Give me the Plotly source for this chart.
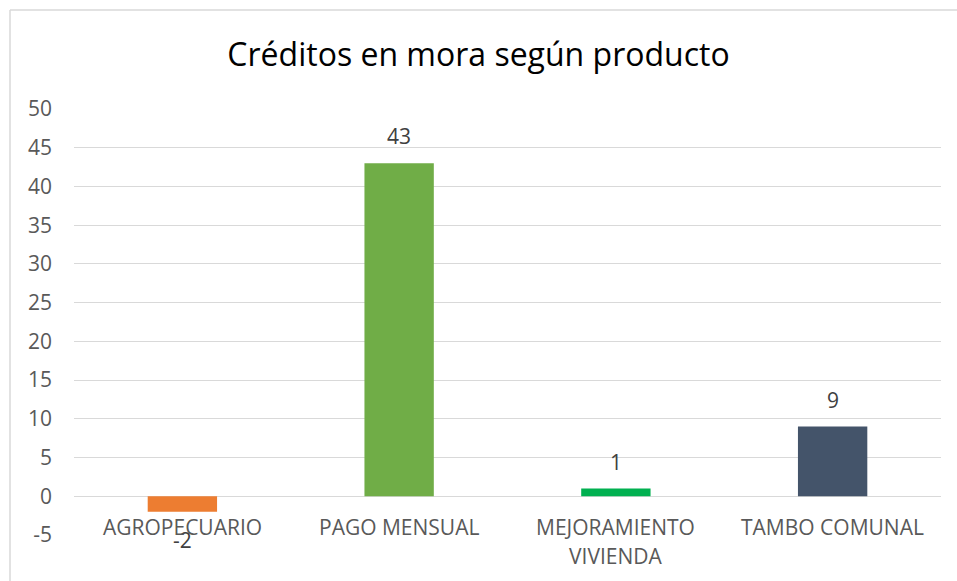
import plotly.graph_objects as go

categories = ["AGROPECUARIO", "PAGO MENSUAL", "MEJORAMIENTO VIVIENDA", "TAMBO COMUNAL"]
label_lines = [["AGROPECUARIO"], ["PAGO MENSUAL"], ["MEJORAMIENTO", "VIVIENDA"], ["TAMBO COMUNAL"]]
values = [-2, 43, 1, 9]
colors = ["#ED7D31", "#70AD47", "#00B050", "#44546A"]
y_ticks = [-5, 0, 5, 10, 15, 20, 25, 30, 35, 40, 45, 50]

FONT = "Open Sans"
GRID = "#D9D9D9"

fig = go.Figure()
fig.add_trace(go.Bar(
    x=categories, y=values, marker=dict(color=colors, line=dict(width=0)),
    hoverinfo="x+y",
))

annotations = []
for cat, v in zip(categories, values):
    if v >= 0:
        annotations.append(dict(x=cat, y=v, xref="x", yref="y", text=str(v), showarrow=False,
                                yanchor="bottom", yshift=11,
                                font=dict(family=FONT, size=21, color="#404040")))
    else:
        annotations.append(dict(x=cat, y=v, xref="x", yref="y", text=str(v), showarrow=False,
                                yanchor="top", yshift=-12,
                                font=dict(family=FONT, size=21, color="#404040")))

for cat, lines in zip(categories, label_lines):
    for i, line in enumerate(lines):
        annotations.append(dict(x=cat, y=0, xref="x", yref="y", text=line, showarrow=False,
                                yanchor="middle", yshift=-31 - 29 * i,
                                font=dict(family=FONT, size=21, color="#595959")))

fig.update_layout(
    width=957, height=581,
    margin=dict(l=74, r=16, t=109, b=46),
    paper_bgcolor="white", plot_bgcolor="white",
    title=dict(text="Créditos en mora según producto", x=0.5, xanchor="center",
               y=1 - 55 / 581, yanchor="middle", yref="container",
               font=dict(family=FONT, size=32, color="#000000")),
    bargap=0.68,
    showlegend=False,
    xaxis=dict(showticklabels=False, showgrid=False, zeroline=False, showline=False, ticks=""),
    yaxis=dict(range=[-5, 50], tickvals=y_ticks, ticktext=[str(t) for t in y_ticks],
               showgrid=True, gridcolor=GRID, gridwidth=1,
               zeroline=True, zerolinecolor=GRID, zerolinewidth=1, showline=False,
               ticks="", ticklabelstandoff=21,
               tickfont=dict(family=FONT, size=21, color="#595959")),
    annotations=annotations,
    shapes=[
        dict(type="line", xref="paper", yref="paper", x0=(10 - 74) / 867, x1=1.2,
             y0=1 + 99 / 426, y1=1 + 99 / 426, line=dict(color=GRID, width=1.5)),
        dict(type="line", xref="paper", yref="paper", x0=(10 - 74) / 867, x1=(10 - 74) / 867,
             y0=1 + 99 / 426, y1=-0.3, line=dict(color=GRID, width=1.5)),
    ],
)

fig.write_html("out.html", config={"displayModeBar": False},
               post_script="document.body.style.margin='0';document.body.style.overflow='hidden';")
